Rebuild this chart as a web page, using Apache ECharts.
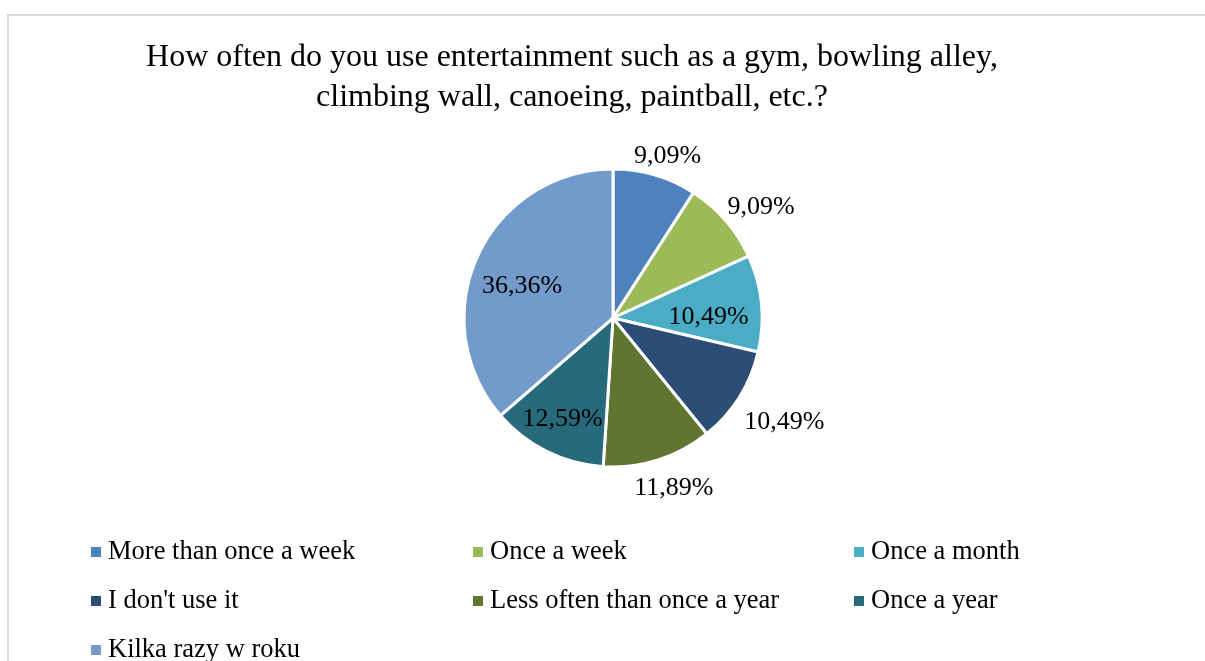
<!DOCTYPE html>
<html><head><meta charset="utf-8">
<script src="https://cdn.jsdelivr.net/npm/echarts@6/dist/echarts.min.js"></script>
<style>html,body{margin:0;padding:0;background:#fff}#c{width:1205px;height:661px}</style>
</head><body><div id="c"></div>
<script>
const titleText = 'How often do you use entertainment such as a gym, bowling alley,\nclimbing wall, canoeing, paintball, etc.?';
const categories = ['More than once a week', 'Once a week', 'Once a month', "I don't use it", 'Less often than once a year', 'Once a year', 'Kilka razy w roku'];
const values = [9.09, 9.09, 10.49, 10.49, 11.89, 12.59, 36.36];
const colors = ['#4f81bd', '#9bbb59', '#4bacc6', '#2c4d75', '#5f7530', '#276a7c', '#729aca'];

const font = '"Liberation Serif","Times New Roman",serif';
const fmt = v => v.toFixed(2).replace('.', ',') + '%';

const center = [613, 318];
const pieRadius = 149;
// Excel "best fit" label placement: distance from centre along the slice mid-angle, plus a small nudge
const labelDistance = [173, 185, 95, 198, 178, 110, 97];
const labelNudge = [[5, 7], [6, 12], [-2, 9], [1, -3], [6, -2], [0, 0], [0, 10]];

const helperSeries = labelDistance.map((d, i) => ({
  type: 'pie', center: center, radius: [0, d * 2], startAngle: 90, clockwise: true,
  silent: true, z: 3, animation: false, avoidLabelOverlap: false,
  data: values.map((v, j) => ({ value: v, label: { show: j === i } })),
  itemStyle: { color: 'rgba(0,0,0,0)', borderWidth: 0 },
  label: { position: 'inside', formatter: p => fmt(p.value), fontFamily: font, fontSize: 26, color: '#000' },
  labelLayout: { dx: labelNudge[i][0], dy: labelNudge[i][1] },
  labelLine: { show: false },
  emphasis: { disabled: true },
  tooltip: { show: false }
}));

const columns = [[0, 3, 6], [1, 4], [2, 5]];
const columnLeft = [91, 473, 854];

const option = {
  animation: false,
  backgroundColor: '#fff',
  color: colors,
  title: {
    text: titleText, left: 572, top: 38, textAlign: 'center', padding: 0,
    textStyle: { fontFamily: font, fontSize: 32, fontWeight: 'normal', color: '#000', lineHeight: 40 }
  },
  legend: columns.map((idxs, k) => ({
    orient: 'vertical', left: columnLeft[k], top: 538, height: 160, padding: 0, itemGap: 21,
    itemWidth: 10, itemHeight: 10, icon: 'rect', selectedMode: false,
    itemStyle: { borderWidth: 0 },
    data: idxs.map(i => ({ name: categories[i], itemStyle: { color: colors[i], borderWidth: 0 } })),
    textStyle: { fontFamily: font, fontSize: 26.5, color: '#000', lineHeight: 28, padding: [0, 0, 0, 2] }
  })),
  graphic: [{
    type: 'rect', shape: { x: 8, y: 15, width: 1400, height: 900 },
    style: { fill: 'none', stroke: '#d9d9d9', lineWidth: 2 }, silent: true, z: -10
  }],
  series: [{
    type: 'pie', name: 'main', center: center, radius: [0, pieRadius], startAngle: 90, clockwise: true,
    z: 2, data: categories.map((c, i) => ({ name: c, value: values[i] })),
    itemStyle: { borderColor: '#fff', borderWidth: 3 },
    label: { show: false }, labelLine: { show: false }, emphasis: { disabled: true }
  }].concat(helperSeries)
};

const chart = echarts.init(document.getElementById('c'), null, { renderer: 'canvas' });
chart.setOption(option);
</script>
</body></html>
